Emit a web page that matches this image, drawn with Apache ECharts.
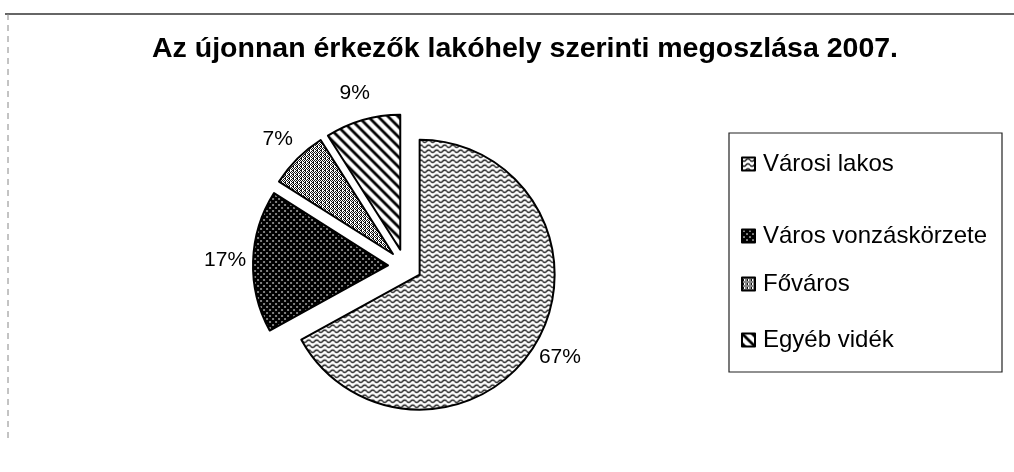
<!DOCTYPE html>
<html>
<head>
<meta charset="utf-8">
<script src="https://cdn.jsdelivr.net/npm/echarts@6/dist/echarts.min.js"></script>
<style>
html,body{margin:0;padding:0;background:#fff;}
#chart{width:1014px;height:472px;}
</style>
</head>
<body>
<div id="chart"></div>
<script>
const titleText = 'Az újonnan érkezők lakóhely szerinti megoszlása 2007.';
const categories = ['Városi lakos', 'Város vonzáskörzete', 'Főváros', 'Egyéb vidék'];
const values = [67, 17, 7, 9];

function makeTile(w, h, draw) {
  const c = document.createElement('canvas');
  c.width = w; c.height = h;
  const ctx = c.getContext('2d');
  draw(ctx, w, h);
  return c;
}
// wavy lines on white
const wavy = makeTile(8, 5, (ctx, w, h) => {
  ctx.fillStyle = '#fff'; ctx.fillRect(0, 0, w, h);
  ctx.strokeStyle = '#000'; ctx.lineWidth = 1.3;
  ctx.beginPath();
  for (let x = 0; x <= w; x += 0.5) {
    const y = 2.5 + 1.2 * Math.sin(x / w * Math.PI * 2);
    if (x === 0) ctx.moveTo(x, y); else ctx.lineTo(x, y);
  }
  ctx.stroke();
});
// dark with white dots
const darkDots = makeTile(6, 6, (ctx, w, h) => {
  ctx.fillStyle = '#000'; ctx.fillRect(0, 0, w, h);
  ctx.fillStyle = '#fff';
  ctx.fillRect(1, 1, 2, 1);
  ctx.fillRect(4, 4, 2, 1);
});
// grey crosshatch
const cross = makeTile(4, 4, (ctx, w, h) => {
  ctx.fillStyle = '#fff'; ctx.fillRect(0, 0, w, h);
  ctx.fillStyle = '#111';
  ctx.fillRect(0, 0, 1, 1); ctx.fillRect(2, 0, 1, 1);
  ctx.fillRect(1, 1, 1, 1); ctx.fillRect(3, 1, 1, 1);
  ctx.fillRect(0, 2, 2, 1); ctx.fillRect(3, 3, 1, 1); ctx.fillRect(1, 3, 1, 1);
});
// diagonal "\" lines
const diag = makeTile(10, 10, (ctx, w, h) => {
  ctx.fillStyle = '#fff'; ctx.fillRect(0, 0, w, h);
  ctx.strokeStyle = '#000'; ctx.lineWidth = 2.8;
  ctx.beginPath();
  ctx.moveTo(-2, -2); ctx.lineTo(w + 2, h + 2);
  ctx.moveTo(-2, h - 2); ctx.lineTo(2, h + 2);
  ctx.moveTo(w - 2, -2); ctx.lineTo(w + 2, 2);
  ctx.stroke();
});
const patterns = [wavy, darkDots, cross, diag];
const legendTops = [152, 224, 272, 328];
const pieCenter = [405, 266];
const fontFam = 'Liberation Sans, Arial, sans-serif';

const chart = echarts.init(document.getElementById('chart'), null, {renderer: 'canvas'});
const option = {
  animation: false,
  backgroundColor: '#fff',
  title: {
    text: titleText,
    left: 147,
    top: 30,
    textStyle: {fontFamily: fontFam, fontWeight: 'bold', fontSize: 28.5, color: '#000'}
  },
  legend: categories.map((name, i) => ({
    orient: 'vertical',
    left: 741,
    top: legendTops[i],
    padding: 0,
    itemWidth: 13,
    itemHeight: 13,
    itemGap: 0,
    icon: 'rect',
    selectedMode: false,
    textStyle: {fontFamily: fontFam, fontSize: 24, color: '#000', padding: [0, 0, 0, 3]},
    data: [name]
  })),
  graphic: [
    {type: 'rect', shape: {x: 729, y: 133, width: 273, height: 239}, style: {fill: 'none', stroke: '#222', lineWidth: 1.2}, silent: true},
    {type: 'line', shape: {x1: 5, y1: 14, x2: 1014, y2: 14}, style: {stroke: '#333', lineWidth: 1.5}, silent: true},
    {type: 'line', shape: {x1: 8, y1: 14, x2: 8, y2: 440}, style: {stroke: '#888', lineWidth: 1, lineDash: [6, 5]}, silent: true}
  ],
  series: [{
    type: 'pie',
    center: pieCenter,
    radius: 135,
    startAngle: 90,
    clockwise: true,
    selectedMode: 'multiple',
    selectedOffset: 17,
    emphasis: {disabled: true},
    itemStyle: {borderColor: '#000', borderWidth: 2},
    label: {show: false},
    labelLine: {show: false},
    data: categories.map((name, i) => ({
      name: name,
      value: values[i],
      selected: true,
      itemStyle: {color: {image: patterns[i], repeat: 'repeat'}}
    }))
  }, {
    // invisible ring that only carries the percentage labels
    type: 'pie',
    center: pieCenter,
    radius: [171, 183],
    startAngle: 90,
    clockwise: true,
    silent: true,
    selectedMode: false,
    emphasis: {disabled: true},
    itemStyle: {color: 'rgba(0,0,0,0)', borderWidth: 0},
    label: {
      show: true,
      position: 'inside',
      formatter: '{c}%',
      fontFamily: fontFam,
      fontSize: 21,
      color: '#000',
      textBorderWidth: 0
    },
    labelLine: {show: false},
    data: categories.map((name, i) => ({name: name, value: values[i]}))
  }]
};
chart.setOption(option);
</script>
</body>
</html>
